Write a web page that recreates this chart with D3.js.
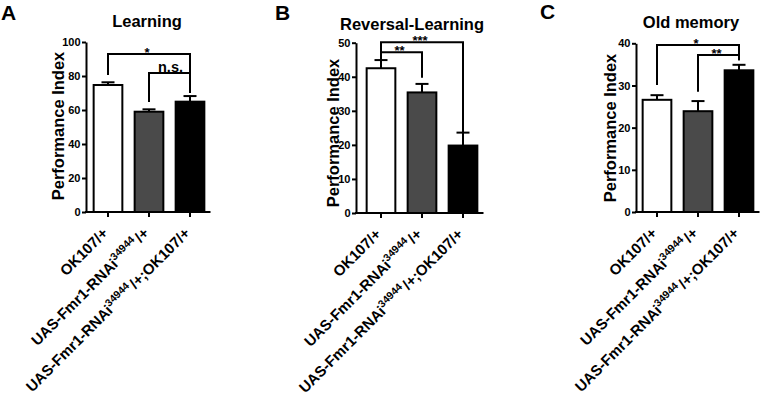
<!DOCTYPE html>
<html><head><meta charset="utf-8">
<script src="https://cdn.jsdelivr.net/npm/d3@7"></script>
<style>
html,body{margin:0;padding:0;background:#fff;}
text{font-family:"Liberation Sans",Arial,Helvetica,sans-serif;font-weight:bold;}
</style></head>
<body><svg id="chart" width="762" height="406"></svg>
<script>
// ---- data ----
const categories = ["OK107/+", "UAS-Fmr1-RNAi34944/+", "UAS-Fmr1-RNAi34944/+;OK107/+"];
const labelMain = ["OK107/+", "UAS-Fmr1-RNAi", "UAS-Fmr1-RNAi"];
const labelSup = ["", "34944", "34944"];
const labelTail = ["", "/+", "/+;OK107/+"];
const barColors = ["#ffffff", "#4a4a4a", "#000000"];

const learningMean = [74.7, 59.0, 64.9];
const learningSem = [1.6, 1.4, 3.3];
const learningTicks = [0, 20, 40, 60, 80, 100];

const reversalMean = [42.5, 35.4, 19.8];
const reversalSem = [2.4, 2.5, 3.8];
const reversalTicks = [0, 10, 20, 30, 40, 50];

const oldMean = [26.6, 23.9, 33.6];
const oldSem = [1.1, 2.4, 1.3];
const oldTicks = [0, 10, 20, 30, 40];

// significance brackets: [fromIndex, toIndex, label, barY, leftLegBottom, rightLegBottom]
const learningSig = [[0, 2, "*", 93, 80.6, 70], [1, 2, "n.s.", 81.8, 64.7, 70]];
const reversalSig = [[0, 2, "***", 50.1, 44.9, 23.8], [0, 1, "**", 47.2, 44.9, 39.7]];
const oldSig = [[0, 2, "*", 39.6, 30.1, 36.0], [1, 2, "**", 37.2, 28.5, 36.0]];

const svg = d3.select("#chart");

function panel(o) {
  const g = svg.append("g");
  const y = d3.scaleLinear().domain([0, o.ymax]).range([o.y0, o.y1]);
  const x = d3.scaleBand().domain(categories).range([o.bx0, o.bx0 + o.step * 3])
    .paddingInner(0.3).paddingOuter(0.15);
  // panel letter & title
  g.append("text").attr("x", o.letterX).attr("y", o.letterY).attr("font-size", 21).text(o.letter);
  g.append("text").attr("x", o.titleX).attr("y", o.titleY).attr("text-anchor", "middle")
    .attr("font-size", 16.5).text(o.title);
  // bars
  g.selectAll("rect.bar").data(o.mean).join("rect")
    .attr("x", (d, i) => x(categories[i]))
    .attr("width", x.bandwidth())
    .attr("y", d => y(d))
    .attr("height", d => y(0) - y(d))
    .attr("fill", (d, i) => barColors[i])
    .attr("stroke", "#000").attr("stroke-width", 2);
  // error bars (upper)
  o.mean.forEach((m, i) => {
    const cx = x(categories[i]) + x.bandwidth() / 2;
    g.append("line").attr("x1", cx).attr("x2", cx).attr("y1", y(m)).attr("y2", y(m + o.sem[i]))
      .attr("stroke", "#000").attr("stroke-width", 2);
    g.append("line").attr("x1", cx - 6.5).attr("x2", cx + 6.5).attr("y1", y(m + o.sem[i])).attr("y2", y(m + o.sem[i]))
      .attr("stroke", "#000").attr("stroke-width", 2);
  });
  // y axis
  const ya = g.append("g").attr("transform", `translate(${o.ax},0)`)
    .call(d3.axisLeft(y).tickValues(o.ticks).tickSize(4).tickPadding(1.5).tickSizeOuter(0));
  ya.select(".domain").attr("stroke-width", 2);
  ya.selectAll(".tick line").attr("stroke-width", 2);
  ya.selectAll(".tick text").attr("font-size", 11).attr("font-family", null).attr("fill", "#000");
  // x axis
  const xa = g.append("g").attr("transform", `translate(0,${o.y0})`);
  xa.append("line").attr("x1", o.ax - 1).attr("x2", o.bx0 + o.step * 3).attr("stroke", "#000").attr("stroke-width", 2);
  categories.forEach((c, i) => {
    const cx = x(c) + x.bandwidth() / 2;
    xa.append("line").attr("x1", cx).attr("x2", cx).attr("y1", 0).attr("y2", 5).attr("stroke", "#000").attr("stroke-width", 2);
    const t = xa.append("text").attr("text-anchor", "end").attr("font-size", 15)
      .attr("transform", `translate(${cx + 1},${22}) rotate(-45)`);
    t.append("tspan").text(labelMain[i]);
    if (labelSup[i]) {
      t.append("tspan").attr("font-size", 10.5).attr("dy", -6).text(labelSup[i]);
      t.append("tspan").attr("dy", 6).attr("dx", 2).text(labelTail[i]);
    }
  });
  // y label
  g.append("text").attr("transform", `translate(${o.ax - o.labOff},${o.labY}) rotate(-90)`)
    .attr("text-anchor", "middle").attr("font-size", 16.5).text("Performance Index");
  // significance
  o.sig.forEach(s => {
    const xa1 = x(categories[s[0]]) + x.bandwidth() / 2;
    const xb1 = x(categories[s[1]]) + x.bandwidth() / 2;
    g.append("path").attr("d", `M${xa1},${y(s[4])}V${y(s[3])}H${xb1}V${y(s[5])}`)
      .attr("fill", "none").attr("stroke", "#000").attr("stroke-width", 2);
    const ns = s[2] === "n.s.";
    g.append("text").attr("x", (xa1 + xb1) / 2 + (ns ? 1 : -2)).attr("y", y(s[3]) + (ns ? -1 : 3))
      .attr("text-anchor", "middle").attr("font-size", ns ? 14.5 : 13).text(s[2]);
  });
}

panel({letter: "A", letterX: 1, letterY: 20, title: "Learning", titleX: 147, titleY: 27, mean: learningMean, sem: learningSem,
  ticks: learningTicks, ymax: 100, y0: 212, y1: 42, ax: 86, labOff: 22, labY: 126, bx0: 87.5, step: 41, sig: learningSig});
panel({letter: "B", letterX: 275, letterY: 19.5, title: "Reversal-Learning", titleX: 412, titleY: 29.5, mean: reversalMean, sem: reversalSem,
  ticks: reversalTicks, ymax: 50, y0: 213, y1: 42.7, ax: 356, labOff: 17.5, labY: 133, bx0: 360.5, step: 41, sig: reversalSig});
panel({letter: "C", letterX: 540, letterY: 18.5, title: "Old memory", titleX: 691, titleY: 28, mean: oldMean, sem: oldSem,
  ticks: oldTicks, ymax: 40, y0: 212, y1: 43.3, ax: 636, labOff: 20, labY: 128, bx0: 636.5, step: 41, sig: oldSig});
</script></body></html>
